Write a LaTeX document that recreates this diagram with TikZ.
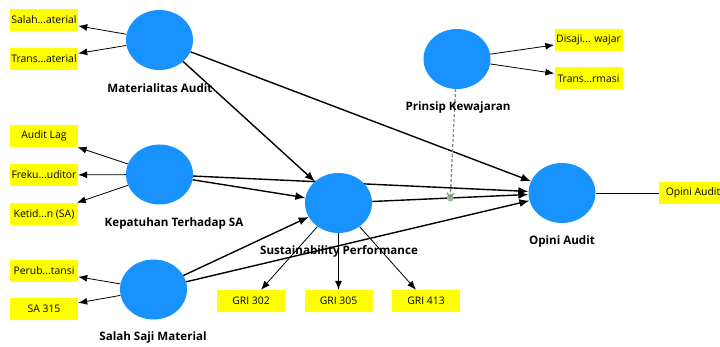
\documentclass[tikz,border=0pt]{standalone}
\usepackage{fontspec}
\setmainfont{Open Sans}
\usetikzlibrary{shapes.geometric,arrows.meta,backgrounds,calc}
\definecolor{lvblue}{RGB}{24,146,255}
\definecolor{indyellow}{RGB}{255,255,0}
\definecolor{modgray}{RGB}{125,145,125}

\begin{document}
\begin{tikzpicture}[x=1pt,y=-1pt,
	lv/.style = {ellipse, fill=lvblue, minimum width=67pt, minimum height=60pt, inner sep=0pt},
	lvname/.style = {font=\fontsize{11.6}{13}\selectfont\bfseries},
	ind/.style = {fill=indyellow, minimum width=68pt, minimum height=22pt, inner sep=0pt, font=\fontsize{10.4}{12}\selectfont},
	path/.style = {line width=1.4pt, -{Latex[length=10pt,width=8pt]}},
	load/.style = {line width=0.8pt, -{Latex[length=9pt,width=7pt]}},
	moder/.style = {modgray, line width=1.3pt, dash pattern=on 3pt off 2pt}]
	\clip (0,0) rectangle (720,347);
	\node[lv] (mat) at (159.5,40) {};
	\node[lv] (kep) at (159.5,174.5) {};
	\node[lv] (sal) at (153.5,289.5) {};
	\node[lv] (sus) at (338.5,203) {};
	\node[lv] (pri) at (457,59) {};
	\node[lv] (opi) at (562,193) {};
	\node[lvname] (matname) at (160,88) {Materialitas Audit};
	\node[lvname] (kepname) at (174,223) {Kepatuhan Terhadap SA};
	\node[lvname] (salname) at (153,337) {Salah Saji Material};
	\node[lvname] (susname) at (339,251) {Sustainability Performance};
	\node[lvname] (priname) at (458,107) {Prinsip Kewajaran};
	\node[lvname] (opiname) at (562,241) {Opini Audit};
	\node[ind] (mat1) at (44,20) {Salah...aterial};
	\node[ind] (mat2) at (44,59) {Trans...aterial};
	\node[ind] (kep1) at (44,136) {Audit Lag};
	\node[ind] (kep2) at (44,175) {Freku...uditor};
	\node[ind] (kep3) at (44,214) {Ketid...n (SA)};
	\node[ind] (sal1) at (44,271) {Perub...tansi};
	\node[ind] (sal2) at (44,309) {SA 315};
	\node[ind] (sus1) at (251,301) {GRI 302};
	\node[ind] (sus2) at (338.5,301) {GRI 305};
	\node[ind] (sus3) at (426,301) {GRI 413};
	\node[ind] (pri1) at (588.5,40) {Disaji... wajar};
	\node[ind] (pri2) at (588.5,78.5) {Trans...rmasi};
	\node[ind] (opi1) at (693,193) {Opini Audit};
	\coordinate (mod) at ($(sus)!0.5!(opi)$);
	\begin{pgfonlayer}{background}
	\draw[path] (mat) -- (sus);
	\draw[path] (mat) -- (opi);
	\draw[path] (kep) -- (sus);
	\draw[path] (kep) -- (opi);
	\draw[path] (sal) -- (sus);
	\draw[path] (sal) -- (opi);
	\draw[path] (sus) -- (opi);
	\draw[load] (mat) -- (mat1);
	\draw[load] (mat) -- (mat2);
	\draw[load] (kep) -- (kep1);
	\draw[load] (kep) -- (kep2);
	\draw[load] (kep) -- (kep3);
	\draw[load] (sal) -- (sal1);
	\draw[load] (sal) -- (sal2);
	\draw[load] (sus) -- (sus1);
	\draw[load] (sus) -- (sus2);
	\draw[load] (sus) -- (sus3);
	\draw[load] (pri) -- (pri1);
	\draw[load] (pri) -- (pri2);
	\draw[line width=0.8pt] (opi) -- (opi1);
	\fill[modgray!70] (mod) circle (3.5pt);
	\draw[moder, -{Straight Barb[length=4pt,width=7pt]}] (pri) -- (mod);
	\end{pgfonlayer}
\end{tikzpicture}
\end{document}
